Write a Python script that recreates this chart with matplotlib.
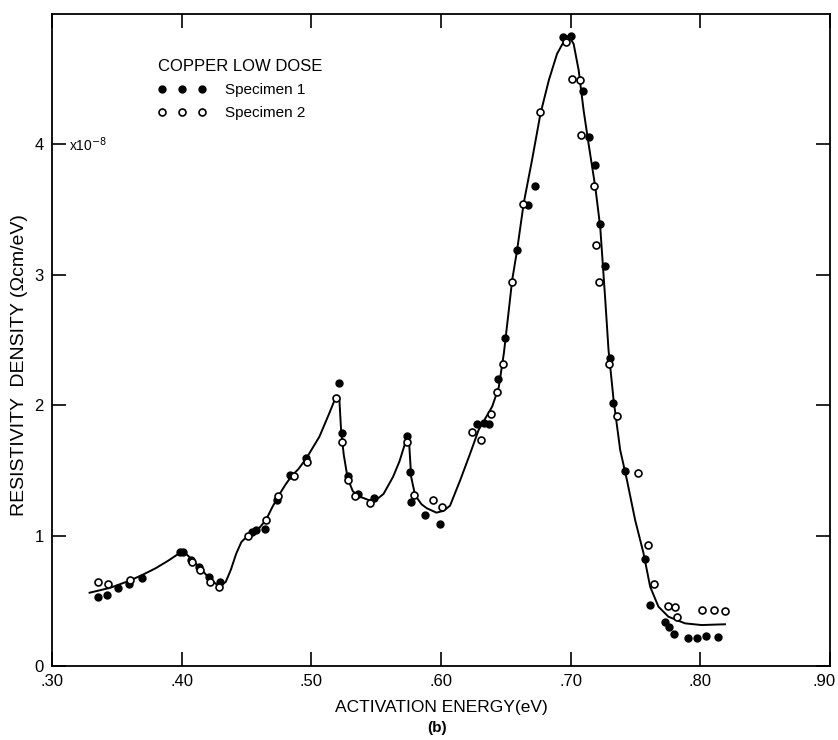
import matplotlib
matplotlib.use("Agg")
import matplotlib.pyplot as plt
from matplotlib.transforms import ScaledTranslation

# ---- data ----
# Specimen 1 (filled circles)
spec1_x = [0.3357, 0.3427, 0.3512, 0.3597, 0.3692, 0.3990, 0.4010, 0.4070, 0.4134,
           0.4214, 0.4294, 0.4541, 0.4572, 0.4644, 0.4738, 0.4836, 0.4960, 0.5217,
           0.5238, 0.5282, 0.5363, 0.5487, 0.5741, 0.5762, 0.5768, 0.5873, 0.5994,
           0.6280, 0.6330, 0.6370, 0.6436, 0.6497, 0.6585, 0.6670, 0.6728, 0.6940,
           0.7000, 0.7092, 0.7138, 0.7190, 0.7228, 0.7262, 0.7305, 0.7323, 0.7421,
           0.7574, 0.7613, 0.7728, 0.7762, 0.7800, 0.7908, 0.7974, 0.8046, 0.8133]
spec1_y = [0.529, 0.547, 0.600, 0.631, 0.672, 0.874, 0.874, 0.813, 0.757,
           0.680, 0.642, 1.025, 1.043, 1.053, 1.273, 1.465, 1.597, 2.173,
           1.785, 1.459, 1.317, 1.286, 1.764, 1.485, 1.260, 1.158, 1.089,
           1.853, 1.863, 1.853, 2.203, 2.518, 3.188, 3.535, 3.679, 4.824,
           4.830, 4.412, 4.057, 3.844, 3.390, 3.067, 2.364, 2.015, 1.498,
           0.818, 0.468, 0.337, 0.299, 0.243, 0.215, 0.215, 0.232, 0.225]

# Specimen 2 (open circles)
spec2_x = [0.3357, 0.3434, 0.3602, 0.4080, 0.4140, 0.4221, 0.4289, 0.4510, 0.4651,
           0.4746, 0.4870, 0.4965, 0.5191, 0.5235, 0.5279, 0.5338, 0.5454, 0.5741,
           0.5793, 0.5935, 0.6007, 0.6240, 0.6310, 0.6385, 0.6433, 0.6479, 0.6544,
           0.6633, 0.6767, 0.6967, 0.7010, 0.7069, 0.7080, 0.7182, 0.7192, 0.7221,
           0.7298, 0.7359, 0.7521, 0.7600, 0.7644, 0.7749, 0.7805, 0.7820, 0.8015,
           0.8105, 0.8192]
spec2_y = [0.642, 0.629, 0.662, 0.800, 0.736, 0.647, 0.606, 0.999, 1.120,
           1.304, 1.459, 1.567, 2.058, 1.716, 1.426, 1.306, 1.252, 1.716,
           1.311, 1.273, 1.217, 1.797, 1.733, 1.930, 2.101, 2.318, 2.945,
           3.540, 4.246, 4.783, 4.499, 4.494, 4.072, 3.681, 3.231, 2.947,
           2.316, 1.920, 1.482, 0.928, 0.629, 0.460, 0.450, 0.378, 0.429,
           0.429, 0.422]

# Fitted curve (hand-drawn line in the reference)
curve_x = [0.329, 0.345, 0.360, 0.370, 0.380, 0.390, 0.396, 0.400, 0.404, 0.407,
           0.414, 0.421, 0.427, 0.4305, 0.434, 0.438, 0.442, 0.446, 0.450, 0.455,
           0.460, 0.465, 0.470, 0.475, 0.480, 0.485, 0.490, 0.496, 0.5062, 0.5138,
           0.519, 0.5215, 0.523, 0.525, 0.528, 0.532, 0.537, 0.545, 0.552, 0.5557,
           0.563, 0.568, 0.5731, 0.5745, 0.5755, 0.577, 0.580, 0.585, 0.589, 0.5965,
           0.602, 0.607, 0.615, 0.6225, 0.629, 0.6395, 0.6446, 0.6485, 0.6523, 0.6549,
           0.6587, 0.6638, 0.6702, 0.6767, 0.6831, 0.6895, 0.6959, 0.6985, 0.7023, 0.7062,
           0.7100, 0.7138, 0.7190, 0.7228, 0.7267, 0.7292, 0.7331, 0.7382, 0.7434, 0.7497,
           0.7562, 0.7613, 0.7677, 0.7754, 0.7882, 0.8010, 0.8190]
curve_y = [0.562, 0.600, 0.655, 0.700, 0.750, 0.810, 0.850, 0.870, 0.855, 0.825,
           0.755, 0.675, 0.625, 0.620, 0.645, 0.740, 0.860, 0.950, 0.990, 1.030,
           1.060, 1.120, 1.220, 1.310, 1.390, 1.460, 1.510, 1.590, 1.758, 1.937,
           2.065, 2.065, 1.800, 1.620, 1.440, 1.340, 1.300, 1.270, 1.290, 1.320,
           1.450, 1.570, 1.733, 1.760, 1.700, 1.450, 1.310, 1.240, 1.210, 1.176,
           1.190, 1.230, 1.430, 1.630, 1.810, 1.990, 2.140, 2.400, 2.730, 2.960,
           3.190, 3.550, 3.880, 4.235, 4.490, 4.695, 4.810, 4.835, 4.770, 4.567,
           4.260, 4.005, 3.673, 3.366, 2.805, 2.423, 2.040, 1.656, 1.426, 1.120,
           0.864, 0.608, 0.455, 0.378, 0.327, 0.314, 0.320]

x_ticks = [0.30, 0.40, 0.50, 0.60, 0.70, 0.80, 0.90]
x_tick_labels = [".30", ".40", ".50", ".60", ".70", ".80", ".90"]
y_ticks = [0, 1, 2, 3, 4]
y_tick_labels = ["0", "1", "2", "3", "4"]

# ---- figure ----
plt.rcParams['font.family'] = ['Liberation Sans', 'DejaVu Sans']
fig = plt.figure(figsize=(8.38, 7.40), dpi=100)
ax = fig.add_axes([52 / 838, 74 / 740, 778 / 838, 652 / 740])

ax.plot(curve_x, curve_y, color='black', lw=1.4, zorder=2)
ax.plot(spec1_x, spec1_y, linestyle='none', marker='o', ms=5, mfc='black',
        mec='black', label='Specimen 1', zorder=3)
ax.plot(spec2_x, spec2_y, linestyle='none', marker='o', ms=5, mfc='white',
        mec='black', mew=1.2, label='Specimen 2', zorder=4)

ax.set_xlim(0.30, 0.90)
ax.set_ylim(0, 5.0)
ax.set_xticks(x_ticks)
ax.set_xticklabels(x_tick_labels)
ax.set_yticks(y_ticks)
ax.set_yticklabels(y_tick_labels)
ax.tick_params(direction='in', length=10, width=1.2, top=True, right=True,
               labelsize=12, pad=6)
for s in ax.spines.values():
    s.set_linewidth(1.3)

# keep the last x tick label inside the figure (as in the reference)
last = ax.get_xticklabels()[-1]
last.set_transform(last.get_transform() + ScaledTranslation(-6 / 100, 0, fig.dpi_scale_trans))

ax.set_xlabel("ACTIVATION ENERGY(eV)", fontsize=12.5, labelpad=8)
ax.set_ylabel("RESISTIVITY  DENSITY (\u03a9cm/eV)", fontsize=14)
ax.yaxis.set_label_coords(-0.031, (666 - 365) / 652)
fig.text(437 / 838, 1 - 728 / 740, "(b)", ha='center', va='center',
         fontsize=11, fontweight='bold')

ax.text(0.30 + (69 - 52) / 1300, 4.0, "x10$^{-8}$", fontsize=10,
        ha='left', va='center')

leg = ax.legend(loc='upper left', bbox_to_anchor=((144 - 52) / 778, (666 - 45) / 652),
                frameon=False, numpoints=3, title="COPPER LOW DOSE",
                fontsize=11, title_fontsize=12, handlelength=3.2,
                handletextpad=1.2, labelspacing=0.6)
leg._legend_box.align = "left"

fig.savefig("out.png", dpi=100)
